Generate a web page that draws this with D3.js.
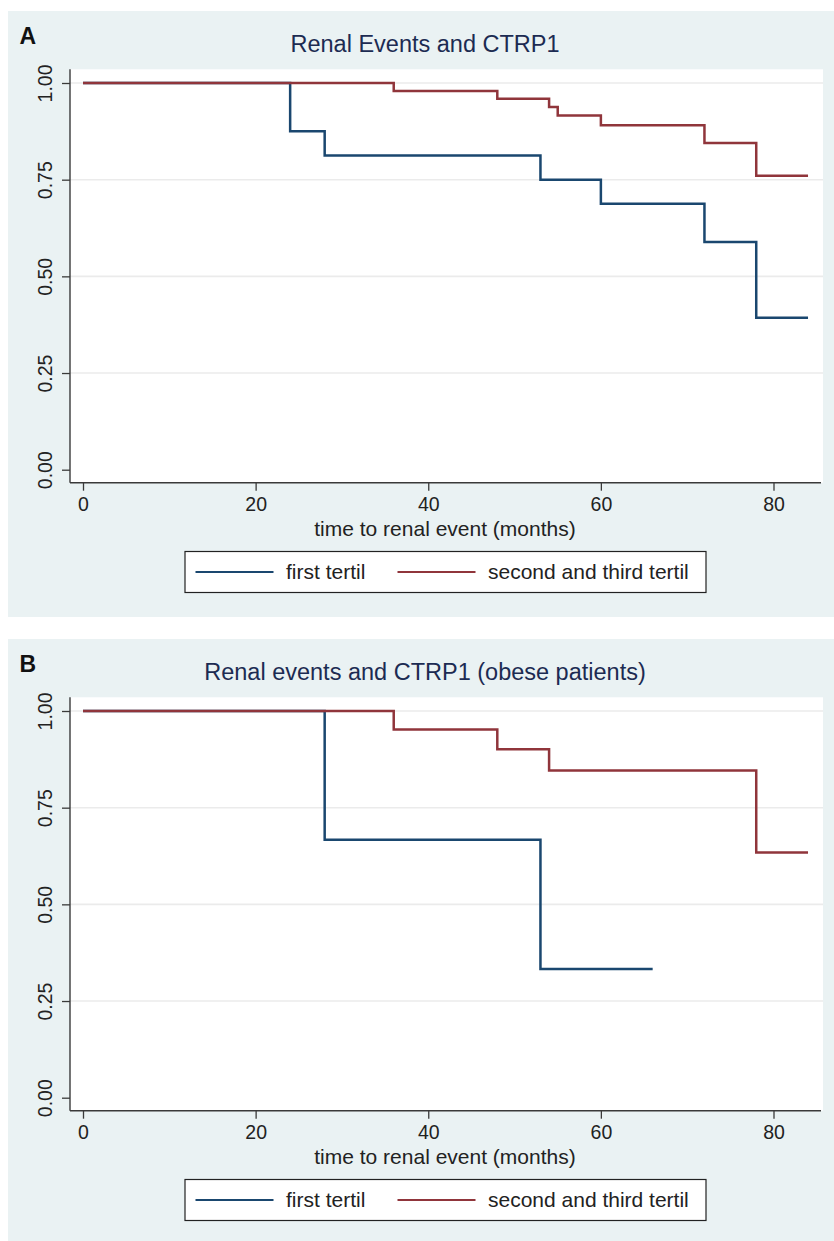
<!DOCTYPE html>
<html>
<head>
<meta charset="utf-8">
<script src="https://cdn.jsdelivr.net/npm/d3@7"></script>
<style>
  html, body { margin: 0; padding: 0; background: #fff; }
  svg { display: block; font-family: "Liberation Sans", Arial, sans-serif; }
</style>
</head>
<body>
<svg id="chart" width="834" height="1241"></svg>
<script>
(function () {
    'use strict';

    // Kaplan-Meier step curves: [months, survival]
    const seriesNames = ["first tertil", "second and third tertil"];
    const xTicks = [0, 20, 40, 60, 80];
    const yTicks = [0, 0.25, 0.5, 0.75, 1];

    const aFirstTimes = [0, 24, 28, 53, 60, 72, 78, 84];
    const aFirstSurv  = [1, 0.875, 0.8125, 0.75, 0.6875, 0.589, 0.393, 0.393];
    const aOtherTimes = [0, 36, 48, 54, 55, 60, 72, 78, 84];
    const aOtherSurv  = [1, 0.979, 0.959, 0.938, 0.916, 0.891, 0.845, 0.760, 0.760];

    const bFirstTimes = [0, 28, 53, 66];
    const bFirstSurv  = [1, 0.667, 0.333, 0.333];
    const bOtherTimes = [0, 36, 48, 54, 78, 84];
    const bOtherSurv  = [1, 0.952, 0.901, 0.846, 0.634, 0.634];

    const colors = ["#1a476f", "#90353b"];

    const panels = [
        { letter: "A", top: 11, title: "Renal Events and CTRP1",
          curves: [[aFirstTimes, aFirstSurv], [aOtherTimes, aOtherSurv]] },
        { letter: "B", top: 639, title: "Renal events and CTRP1 (obese patients)",
          curves: [[bFirstTimes, bFirstSurv], [bOtherTimes, bOtherSurv]] }
    ];

    const svg = d3.select("#chart");

    const x = d3.scaleLinear().domain([0, 80]).range([83, 773.5]);
    const y = d3.scaleLinear().domain([0, 1]).range([458.7, 72]);

    const line = d3.line()
        .curve(d3.curveStepAfter)
        .x(d => x(d[0]))
        .y(d => y(d[1]));

    panels.forEach(p => {
        const g = svg.append("g").attr("transform", `translate(0,${p.top})`);

        g.append("rect")
            .attr("x", 8).attr("y", 0)
            .attr("width", 826).attr("height", 606)
            .attr("fill", "#eaf2f3");

        // plot region
        g.append("rect")
            .attr("x", 70).attr("y", 58.3)
            .attr("width", 753).attr("height", 413.4)
            .attr("fill", "#fff");

        g.append("text")
            .attr("x", 19.5).attr("y", 32.5)
            .attr("font-size", 23).attr("font-weight", "bold")
            .attr("fill", "#111")
            .text(p.letter);

        g.append("text")
            .attr("x", 425).attr("y", 40.5)
            .attr("text-anchor", "middle")
            .attr("font-size", 23.5)
            .attr("fill", "#1c2b52")
            .text(p.title);

        // grid (no line at 0)
        g.append("g")
            .selectAll("line")
            .data(yTicks.filter(d => d > 0))
            .join("line")
            .attr("x1", 70).attr("x2", 823)
            .attr("y1", d => y(d)).attr("y2", d => y(d))
            .attr("stroke", "#ebebeb")
            .attr("stroke-width", 1.6);

        // y axis
        const yAxis = g.append("g")
            .attr("transform", "translate(70,0)")
            .call(d3.axisLeft(y).tickValues(yTicks).tickSize(8).tickFormat(d3.format(".2f")));
        yAxis.select(".domain")
            .attr("d", `M0,58.3V471.7`)
            .attr("stroke", "#3a3a3a").attr("stroke-width", 1.4);
        yAxis.selectAll(".tick line").attr("stroke", "#3a3a3a").attr("stroke-width", 1.3);
        yAxis.selectAll(".tick text")
            .attr("x", 0).attr("dy", null)
            .attr("transform", "translate(-18,0) rotate(-90)")
            .attr("text-anchor", "middle")
            .attr("font-size", 19.5)
            .attr("font-family", "Liberation Sans, Arial, sans-serif")
            .attr("fill", "#222");

        // x axis
        const xAxis = g.append("g")
            .attr("transform", "translate(0,471.7)")
            .call(d3.axisBottom(x).tickValues(xTicks).tickSize(8));
        xAxis.select(".domain")
            .attr("d", "M70,0H821")
            .attr("stroke", "#3a3a3a").attr("stroke-width", 1.4);
        xAxis.selectAll(".tick line").attr("stroke", "#3a3a3a").attr("stroke-width", 1.3);
        xAxis.selectAll(".tick text")
            .attr("y", 28).attr("dy", null)
            .attr("font-size", 19.5)
            .attr("font-family", "Liberation Sans, Arial, sans-serif")
            .attr("fill", "#222");

        g.append("text")
            .attr("x", 445).attr("y", 525)
            .attr("text-anchor", "middle")
            .attr("font-size", 21)
            .attr("fill", "#222")
            .text("time to renal event (months)");

        // curves
        g.append("g")
            .selectAll("path")
            .data(p.curves)
            .join("path")
            .attr("d", c => line(c[0].map((t, i) => [t, c[1][i]])))
            .attr("fill", "none")
            .attr("stroke", (c, i) => colors[i])
            .attr("stroke-width", 2.5);

        // legend
        const lg = g.append("g").attr("transform", "translate(185,540.5)");
        lg.append("rect")
            .attr("width", 521).attr("height", 41)
            .attr("fill", "#fff")
            .attr("stroke", "#222").attr("stroke-width", 1.2);
        const offsets = [0, 202];
        const item = lg.selectAll("g.item")
            .data(seriesNames)
            .join("g")
            .attr("class", "item")
            .attr("transform", (d, i) => `translate(${offsets[i]},0)`);
        item.append("line")
            .attr("x1", 10.5).attr("x2", 88.5)
            .attr("y1", 20.5).attr("y2", 20.5)
            .attr("stroke", (d, i) => colors[i])
            .attr("stroke-width", 2.2);
        item.append("text")
            .attr("x", 101).attr("y", 27.5)
            .attr("font-size", 21)
            .attr("fill", "#222")
            .text(d => d);
    });
}());
</script>
</body>
</html>
